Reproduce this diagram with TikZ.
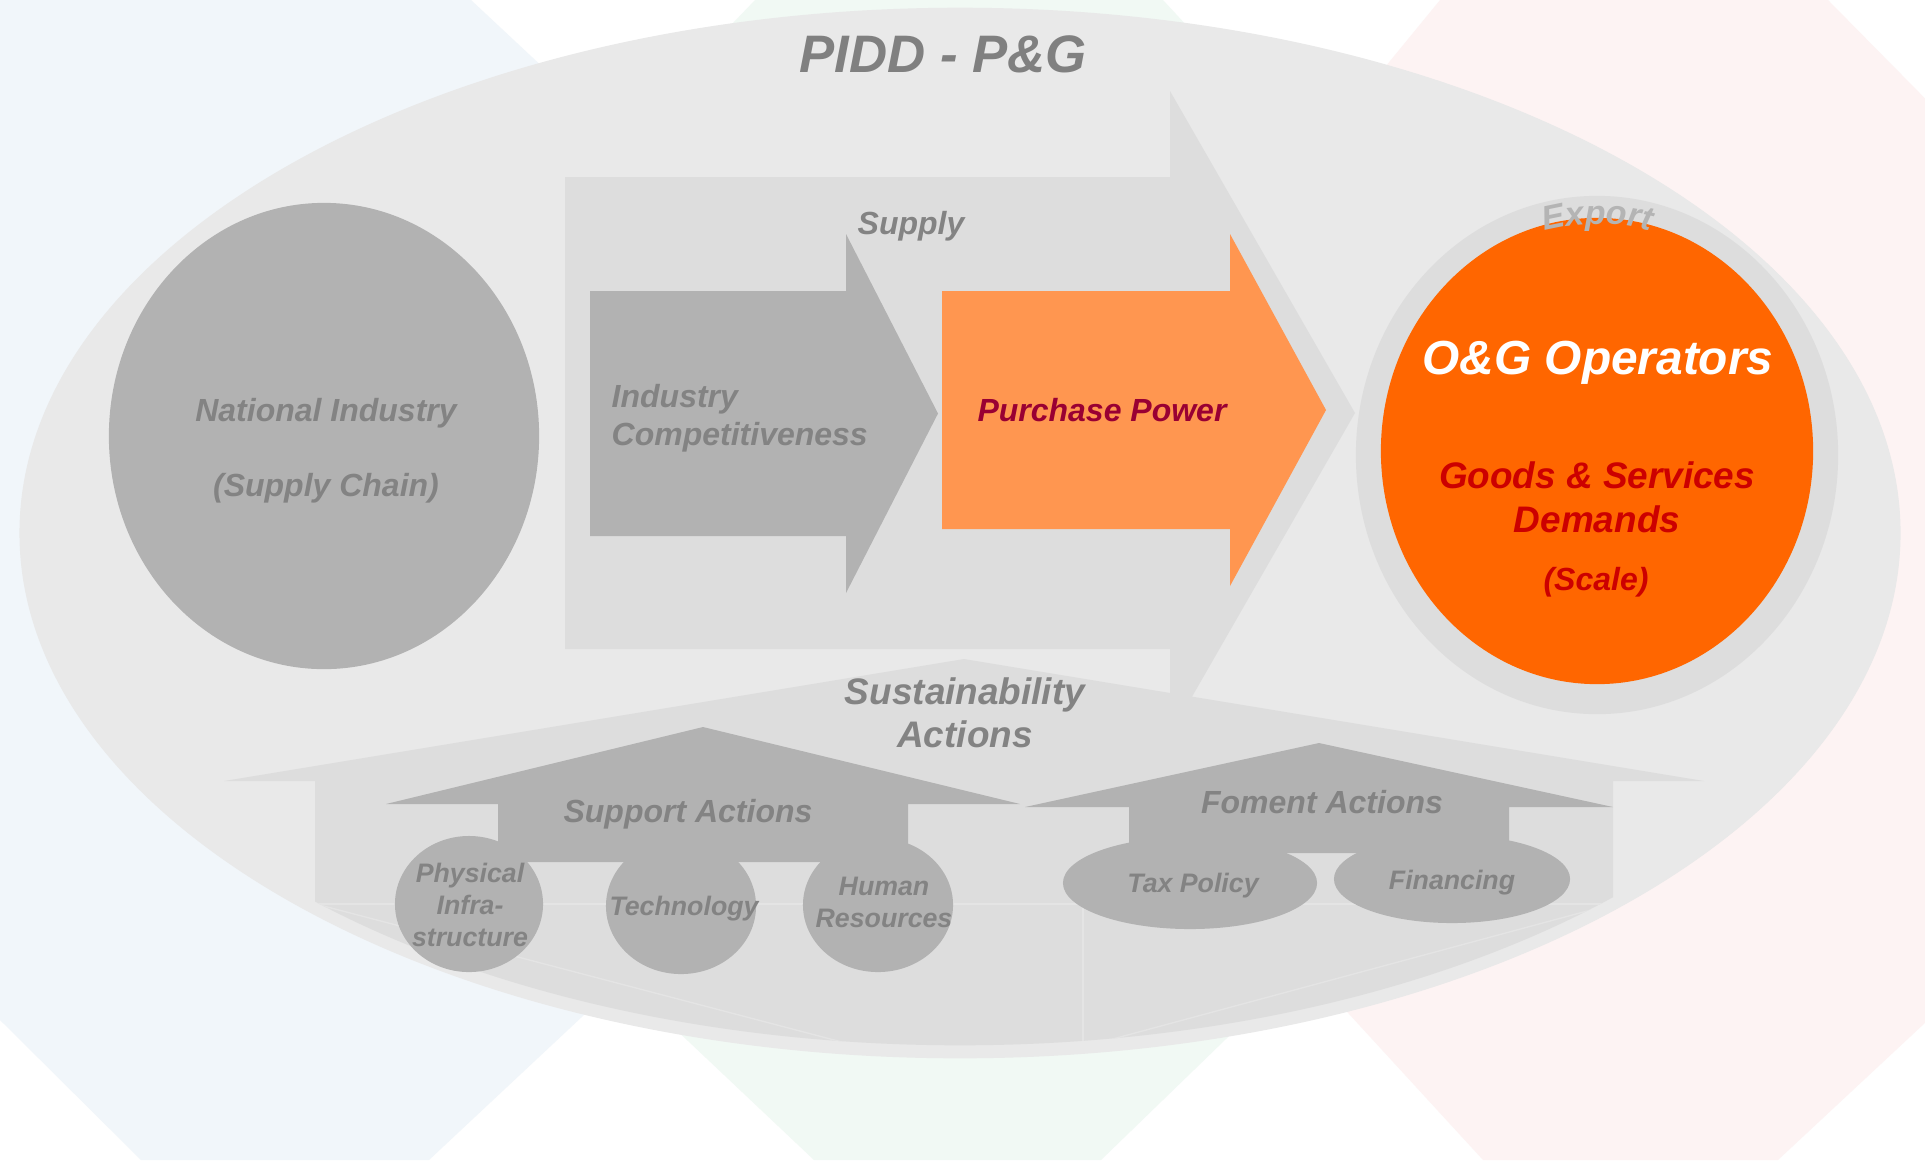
\documentclass[tikz,border=0pt]{standalone}
\usepackage{fontspec}
\setmainfont{Liberation Sans}
\usetikzlibrary{shapes.geometric,decorations.text}
\definecolor{hexblue}{HTML}{F1F6FA}
\definecolor{hexgreen}{HTML}{F1F9F4}
\definecolor{hexpink}{HTML}{FDF3F3}
\definecolor{ovalgray}{HTML}{E9E9E9}
\definecolor{pale}{HTML}{DDDDDD}
\definecolor{seam}{HTML}{E4E4E4}
\definecolor{midgray}{HTML}{B2B2B2}
\definecolor{txtgray}{HTML}{838383}
\definecolor{lightorange}{HTML}{FF9650}
\definecolor{deeporange}{HTML}{FF6600}
\definecolor{wine}{HTML}{990033}
\definecolor{darkred}{HTML}{CC0000}
\definecolor{exportgray}{HTML}{B4B4B4}
\tikzset{
    lbl/.style={font=\bfseries\itshape, text=txtgray, align=center, inner sep=0pt},
    blob/.style={ellipse, fill=midgray, inner sep=0pt},
}
\newcommand\flowarrow[7]{
    \fill[#1] (#2,#3) -- (#5,#3) -- (#5,#6) -- (#7,{(#3+#4)/2})
        -- (#5,{#3+#4-#6}) -- (#5,#4) -- (#2,#4) -- cycle;
}
\newcommand\liftarrow[7]{
    \fill[#1] (#2,#3) -- ({#2+#5},#4) -- ({#2+#6},#4) -- ({#2+#6},#7)
        -- ({#2-#6},#7) -- ({#2-#6},#4) -- ({#2-#5},#4) -- cycle;
}
\begin{document}
\begin{tikzpicture}[x=0.01cm, y=-0.01cm]
    \useasboundingbox (0,0) rectangle (1925,1160);
    \clip (0,0) rectangle (1925,1160);
    \fill[white] (0,0) rectangle (1925,1160);
    % backdrop
    \fill[hexgreen] (755,0) -- (1163,0) -- (1700,580) -- (1101,1160) -- (814,1160) -- (200,580) -- cycle;
    \fill[hexblue] (0,0) -- (471,0) -- (1070,560) -- (429,1160) -- (141,1160) -- (0,1020) -- cycle;
    \fill[hexpink] (1440,0) -- (1828,0) -- (2400,580) -- (1778,1160) -- (1483,1160) -- (958,588) -- cycle;
    \fill[ovalgray] (960,533) ellipse [x radius=9.40cm, y radius=5.25cm];
    \begin{scope}
        \clip (960,533) ellipse [x radius=9.28cm, y radius=5.12cm];
        \liftarrow{pale}{964}{659}{781}{740}{649}{1100}
        \draw[seam] (316,904) -- (1613,904);
        \draw[seam] (316,904) -- (880,1052);
        \draw[seam] (1613,904) -- (1083,1047);
        \draw[seam] (1083,904) -- (1083,1060);
    \end{scope}
    \flowarrow{pale}{565}{177}{649}{1170}{91}{1355}
    \flowarrow{midgray}{590}{291}{536}{846}{234}{938}
    \flowarrow{lightorange}{942}{291}{529}{1230}{234}{1326}
    \liftarrow{midgray}{703}{727}{804}{317}{205}{862}
    \liftarrow{midgray}{1319}{743}{807}{294}{190}{853}
    \node[blob, minimum width=4.30cm, minimum height=4.66cm] (natind) at (324,436) {};
    \node[ellipse, fill=pale, minimum width=4.82cm, minimum height=5.18cm] (ring) at (1597,455) {};
    \node[ellipse, fill=deeporange, minimum width=4.32cm, minimum height=4.66cm] (operators) at (1597,451) {};
    \node[blob, minimum width=1.48cm, minimum height=1.36cm] (physical) at (469,904) {};
    \node[blob, minimum width=1.50cm, minimum height=1.36cm] (technology) at (681,906) {};
    \node[blob, minimum width=1.50cm, minimum height=1.34cm] (human) at (878,905) {};
    \node[blob, minimum width=2.54cm, minimum height=0.92cm] (tax) at (1190,883) {};
    \node[blob, minimum width=2.36cm, minimum height=0.88cm] (financing) at (1452,879) {};
    \path[decorate, decoration={text along path, text align=center, text color=exportgray,
        text={|\fontsize{9.6}{11}\selectfont\bfseries\itshape|Export}}]
        (1522,238) arc [start angle=110, end angle=70, x radius=2.20cm, y radius=2.32cm];
    \node[lbl, font=\fontsize{15}{18}\selectfont\bfseries\itshape, text=gray] (title) at (943,54) {PIDD - P\&G};
    \node[lbl, font=\fontsize{9.1}{11}\selectfont\bfseries\itshape] (supplytxt) at (911,226) {Supply};
    \node[lbl, font=\fontsize{9.1}{10.8}\selectfont\bfseries\itshape, align=left, anchor=west] (industrytxt) at (611,418) {Industry\\Competitiveness};
    \node[lbl, font=\fontsize{9.1}{11}\selectfont\bfseries\itshape, text=wine] (purchasetxt) at (1102,410) {Purchase Power};
    \node[lbl, font=\fontsize{9.1}{21.3}\selectfont\bfseries\itshape] (natindtxt) at (326,451) {National Industry\\(Supply Chain)};
    \node[lbl, font=\fontsize{13.6}{16}\selectfont\bfseries\itshape, text=white] (ogtxt) at (1598,363) {O\&G Operators};
    \node[lbl, font=\fontsize{10.5}{12.5}\selectfont\bfseries\itshape, text=darkred] (goodstxt) at (1597,497) {Goods \& Services\\Demands};
    \node[lbl, font=\fontsize{9.1}{11}\selectfont\bfseries\itshape, text=darkred] (scaletxt) at (1596,582) {(Scale)};
    \node[lbl, font=\fontsize{10.5}{12.2}\selectfont\bfseries\itshape] (sustxt) at (965,713) {Sustainability\\Actions};
    \node[lbl, font=\fontsize{9.1}{11}\selectfont\bfseries\itshape] (supporttxt) at (688,814) {Support Actions};
    \node[lbl, font=\fontsize{9.1}{11}\selectfont\bfseries\itshape] (fomenttxt) at (1322,802) {Foment Actions};
    \node[lbl, font=\fontsize{7.6}{9.1}\selectfont\bfseries\itshape] (physicaltxt) at (470,905) {Physical\\Infra-\\structure};
    \node[lbl, font=\fontsize{7.6}{9.1}\selectfont\bfseries\itshape] (technologytxt) at (684,909) {Technology};
    \node[lbl, font=\fontsize{7.6}{9.1}\selectfont\bfseries\itshape] (humantxt) at (884,902) {Human\\Resources};
    \node[lbl, font=\fontsize{7.6}{9.1}\selectfont\bfseries\itshape] (taxtxt) at (1193,886) {Tax Policy};
    \node[lbl, font=\fontsize{7.6}{9.1}\selectfont\bfseries\itshape] (financingtxt) at (1452,883) {Financing};
\end{tikzpicture}
\end{document}
